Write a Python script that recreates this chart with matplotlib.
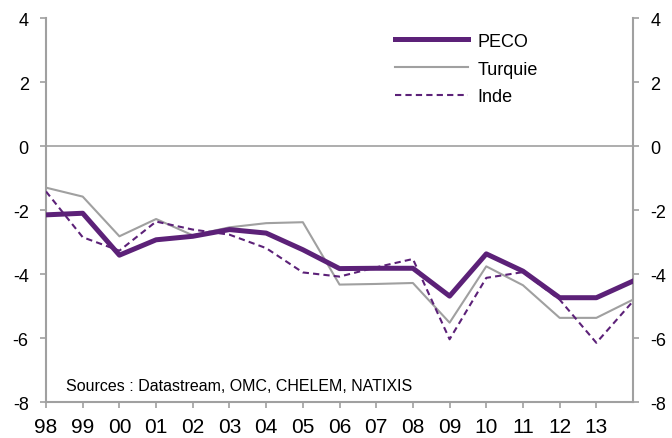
import numpy as np
import matplotlib.pyplot as plt

plt.rcParams['font.family'] = ['Liberation Sans', 'DejaVu Sans']
plt.rcParams['axes.unicode_minus'] = False

# années (98 -> 14), étiquettes affichées 98 -> 13
annees = ['98', '99', '00', '01', '02', '03', '04', '05', '06', '07',
          '08', '09', '10', '11', '12', '13', '14']
etiquettes = annees[:-1]

peco = [-2.15, -2.10, -3.41, -2.93, -2.82, -2.61, -2.72, -3.24, -3.83, -3.82,
        -3.82, -4.69, -3.37, -3.91, -4.74, -4.74, -4.22]
turquie = [-1.30, -1.58, -2.82, -2.28, -2.79, -2.54, -2.41, -2.38, -4.33, -4.31,
           -4.28, -5.52, -3.76, -4.35, -5.37, -5.37, -4.80]
inde = [-1.42, -2.85, -3.27, -2.36, -2.61, -2.77, -3.19, -3.95, -4.08, -3.79,
        -3.53, -6.04, -4.12, -3.94, -4.80, -6.15, -4.85]

violet = '#5C2178'
gris = '#A0A0A0'

fig = plt.figure(figsize=(6.72, 4.39), dpi=100)
ax = fig.add_axes([0.0685, 0.082, 0.8735, 0.8745])

x = np.arange(len(annees))
ax.axhline(0, color=gris, lw=1.2, zorder=1)
ax.plot(x, peco, color=violet, lw=3.6, label='PECO', zorder=4)
ax.plot(x, turquie, color=gris, lw=1.5, label='Turquie', zorder=3)
ax.plot(x, inde, color=violet, lw=1.5, dashes=(3, 2), label='Inde', zorder=3)

ax.set_xlim(0, len(annees) - 1)
ax.set_ylim(-8, 4)
ax.set_yticks(np.arange(-8, 5, 2))
ax.set_xticks(x[:-1])
ax.set_xticklabels(etiquettes)

for s in ['left', 'right', 'bottom']:
    ax.spines[s].set_color(gris)
    ax.spines[s].set_linewidth(1.5)
ax.spines['top'].set_visible(False)

ax.tick_params(axis='y', left=True, right=True, labelleft=True, labelright=True,
               direction='out', length=4.5, width=1.2, color=gris,
               labelsize=13, pad=8)
ax.tick_params(axis='x', direction='out', length=4.5, width=1.2, color=gris,
               labelsize=15, pad=6)

ax.legend(loc='upper left', bbox_to_anchor=(0.595, 0.962), frameon=False,
          fontsize=13, handlelength=4.0, handletextpad=0.55, labelspacing=0.6,
          borderpad=0, borderaxespad=0)

ax.text(0.034, 0.044, 'Sources : Datastream, OMC, CHELEM, NATIXIS',
        transform=ax.transAxes, fontsize=11.5, va='center', ha='left')

fig.savefig('out.png', dpi=100)
